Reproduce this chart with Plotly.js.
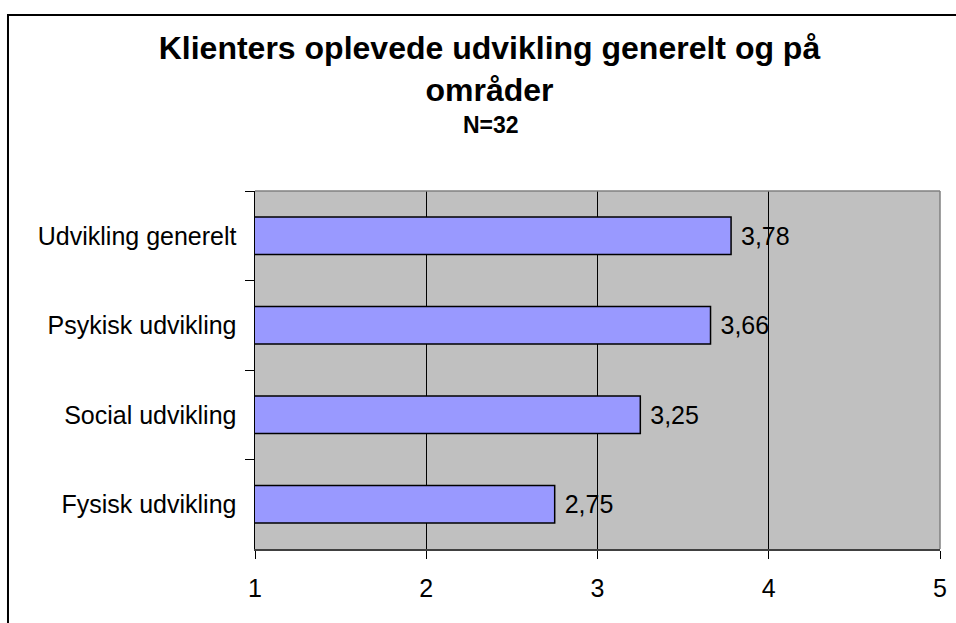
<!DOCTYPE html>
<html>
<head>
<meta charset="utf-8">
<script src="https://cdn.plot.ly/plotly-3.0.1.min.js"></script>
<style>
  html, body { margin: 0; padding: 0; background: #ffffff; }
  #chart { width: 956px; height: 623px; }
</style>
</head>
<body>
<div id="chart"></div>
<script>
// Data
const categories = ["Udvikling generelt", "Psykisk udvikling", "Social udvikling", "Fysisk udvikling"];
const values = [3.78, 3.66, 3.25, 2.75];
const xTickValues = [1, 2, 3, 4, 5];
const xTickLabels = ["1", "2", "3", "4", "5"];
const titleText = "Klienters oplevede udvikling generelt og på<br>områder";
const subtitleText = "N=32";

const FONT = "Arial, 'Liberation Sans', sans-serif";

const trace = {
  type: "bar",
  orientation: "h",
  y: categories,
  x: values,
  marker: { color: "#9999FF", line: { color: "#000000", width: 1.5 } },
  texttemplate: "\u00a0%{x:.2f}",
  textposition: "outside",
  textfont: { family: FONT, size: 25, color: "#000000" },
  cliponaxis: false,
  hoverinfo: "none"
};

const layout = {
  width: 956,
  height: 623,
  margin: { l: 255, r: 16, t: 191, b: 74 },
  paper_bgcolor: "#ffffff",
  plot_bgcolor: "#C0C0C0",
  separators: ",.",
  showlegend: false,
  bargap: 0.58,
  font: { family: FONT, color: "#000000" },
  title: {
    text: titleText,
    font: { family: FONT, size: 32, color: "#000000", weight: "bold" },
    x: 0.512, xanchor: "center",
    y: 0.905, yanchor: "top"
  },
  annotations: [{
    text: "<b>" + subtitleText + "</b>",
    xref: "paper", yref: "paper",
    x: 0.345, y: 1.185,
    xanchor: "center", yanchor: "middle",
    showarrow: false,
    font: { family: FONT, size: 23, color: "#000000" }
  }],
  xaxis: {
    range: [1, 5],
    tickvals: xTickValues,
    ticktext: xTickLabels,
    ticks: "outside",
    ticklen: 8,
    tickcolor: "#000000",
    tickwidth: 1,
    ticklabelstandoff: 8,
    tickfont: { family: FONT, size: 25, color: "#000000" },
    showgrid: true,
    gridcolor: "#000000",
    gridwidth: 1,
    showline: true,
    linecolor: "#404040",
    linewidth: 1.5,
    zeroline: false,
    fixedrange: true
  },
  yaxis: {
    type: "category",
    categoryorder: "array",
    categoryarray: categories,
    autorange: "reversed",
    ticks: "outside",
    tickson: "boundaries",
    ticklen: 9,
    tickcolor: "#000000",
    tickwidth: 1,
    ticklabelstandoff: 12,
    tickfont: { family: FONT, size: 25, color: "#000000" },
    showgrid: false,
    showline: true,
    linecolor: "#000000",
    linewidth: 1.5,
    zeroline: false,
    fixedrange: true
  },
  shapes: [
    { type: "line", xref: "paper", yref: "paper", x0: 0, x1: 1, y0: 1, y1: 1,
      line: { color: "#808080", width: 1.5 } },
    { type: "line", xref: "paper", yref: "paper", x0: 1, x1: 1, y0: 0, y1: 1,
      line: { color: "#808080", width: 1.5 } },
    { type: "rect", xref: "paper", yref: "paper", layer: "above",
      x0: -0.3606, x1: 1.2, y0: -0.4, y1: 1.4916,
      line: { color: "#000000", width: 2 }, fillcolor: "rgba(0,0,0,0)" }
  ]
};

Plotly.newPlot("chart", [trace], layout, { displayModeBar: false, staticPlot: true });
</script>
</body>
</html>
